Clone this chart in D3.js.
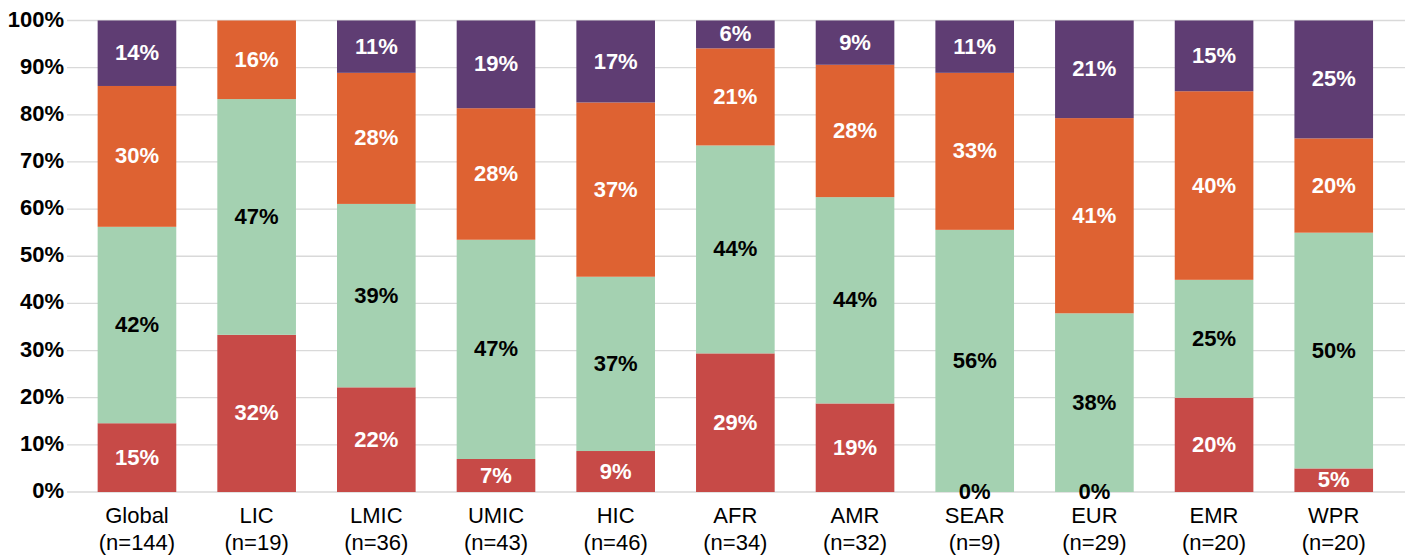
<html>
<head>
<style>
    body { margin: 0; background: #ffffff; font-family: Arial, "Liberation Sans", Helvetica, sans-serif; }
    svg { display: block; }
</style>
<script src="https://cdn.jsdelivr.net/npm/d3@7"></script>
</head>
<body>
<svg id="grafico"></svg>
<script>
    // categories and sample sizes
    const categorias = ["Global", "LIC", "LMIC", "UMIC", "HIC", "AFR", "AMR", "SEAR", "EUR", "EMR", "WPR"];
    const tamanos = ["(n=144)", "(n=19)", "(n=36)", "(n=43)", "(n=46)", "(n=34)", "(n=32)", "(n=9)", "(n=29)", "(n=20)", "(n=20)"];

    // series values in %, bottom to top (null = no segment)
    const serieRoja    = [14.6, 31.6, 22.2,  7.0,  8.7, 29.4, 18.8,  0.0,  0.0, 20.0,  5.0];
    const serieVerde   = [41.7, 47.4, 38.9, 46.5, 37.0, 44.1, 43.8, 55.6, 37.9, 25.0, 50.0];
    const serieNaranja = [29.9, 15.8, 27.8, 27.9, 37.0, 20.6, 28.1, 33.3, 41.4, 40.0, 20.0];
    const serieMorada  = [13.9, null, 11.1, 18.6, 17.4,  5.9,  9.4, 11.1, 20.7, 15.0, 25.0];

    const ticksY = [0, 0.1, 0.2, 0.3, 0.4, 0.5, 0.6, 0.7, 0.8, 0.9, 1];

    const series = [
        { clave: "roja", valores: serieRoja, color: "#c74a47", texto: "#ffffff" },
        { clave: "verde", valores: serieVerde, color: "#a4d1b1", texto: "#000000" },
        { clave: "naranja", valores: serieNaranja, color: "#de6232", texto: "#ffffff" },
        { clave: "morada", valores: serieMorada, color: "#5f3d73", texto: "#ffffff" }
    ];

    const ancho = 1413, alto = 555;
    const cuerpo = { izq: 77.3, der: 1393.4, arriba: 20.5, abajo: 492 };
    const rejilla = { izq: 67, der: 1405 };

    const filas = categorias.map((c, i) => {
        let fila = { categoria: c, n: tamanos[i] };
        series.forEach(s => fila[s.clave] = s.valores[i] == null ? 0 : s.valores[i]);
        return fila;
    });

    const pila = d3.stack()
        .keys(series.map(s => s.clave))
        .offset(d3.stackOffsetExpand)(filas);

    const svg = d3.select("#grafico").attr("width", ancho).attr("height", alto);

    const escalaX = d3.scaleBand()
        .domain(categorias)
        .range([cuerpo.izq, cuerpo.der])
        .paddingInner(0.343)
        .paddingOuter(0.17);

    const escalaY = d3.scaleLinear()
        .domain([0, 1])
        .range([cuerpo.abajo, cuerpo.arriba]);

    // gridlines
    svg.append("g").selectAll("line")
        .data(ticksY)
        .enter().append("line")
        .attr("x1", rejilla.izq).attr("x2", rejilla.der)
        .attr("y1", d => escalaY(d)).attr("y2", d => escalaY(d))
        .attr("stroke", "#d9d9d9")
        .attr("stroke-width", 1.3);

    // y axis labels
    const ejeY = d3.axisLeft(escalaY).tickValues(ticksY).tickFormat(d3.format(".0%")).tickSize(0).tickPadding(0);
    svg.append("g")
        .attr("transform", `translate(64,0)`)
        .call(ejeY)
        .call(g => g.select(".domain").remove())
        .call(g => g.selectAll("text")
            .attr("font-family", "Arial, 'Liberation Sans', sans-serif")
            .attr("font-size", 22).attr("font-weight", "bold").attr("fill", "#000")
            .attr("dy", "0.25em"));

    // bars
    pila.forEach((capa, k) => {
        let s = series[k];
        let g = svg.append("g");
        g.selectAll("rect")
            .data(capa)
            .enter().append("rect")
            .attr("x", d => escalaX(d.data.categoria))
            .attr("width", escalaX.bandwidth())
            .attr("y", d => escalaY(d[1]))
            .attr("height", d => escalaY(d[0]) - escalaY(d[1]))
            .attr("fill", s.color);
    });

    // segment labels
    pila.forEach((capa, k) => {
        let s = series[k];
        svg.append("g").selectAll("text")
            .data(capa.filter((d, i) => s.valores[i] != null))
            .enter().append("text")
            .attr("x", d => escalaX(d.data.categoria) + escalaX.bandwidth() / 2)
            .attr("y", d => (escalaY(d[0]) + escalaY(d[1])) / 2)
            .attr("dy", "0.32em")
            .attr("text-anchor", "middle")
            .attr("font-size", 22).attr("font-weight", "bold")
            .attr("fill", d => d.data[s.clave] === 0 ? "#000000" : s.texto)
            .text(d => Math.round(d.data[s.clave]) + "%");
    });

    // x axis labels
    const ejeX = svg.append("g");
    ejeX.selectAll(".cat")
        .data(filas)
        .enter().append("text")
        .attr("x", d => escalaX(d.categoria) + escalaX.bandwidth() / 2)
        .attr("y", 523)
        .attr("text-anchor", "middle")
        .attr("font-size", 22).attr("fill", "#000")
        .text(d => d.categoria);
    ejeX.selectAll(".n")
        .data(filas)
        .enter().append("text")
        .attr("x", d => escalaX(d.categoria) + escalaX.bandwidth() / 2)
        .attr("y", 550)
        .attr("text-anchor", "middle")
        .attr("font-size", 22).attr("fill", "#000")
        .text(d => d.n);
</script>
</body>
</html>
